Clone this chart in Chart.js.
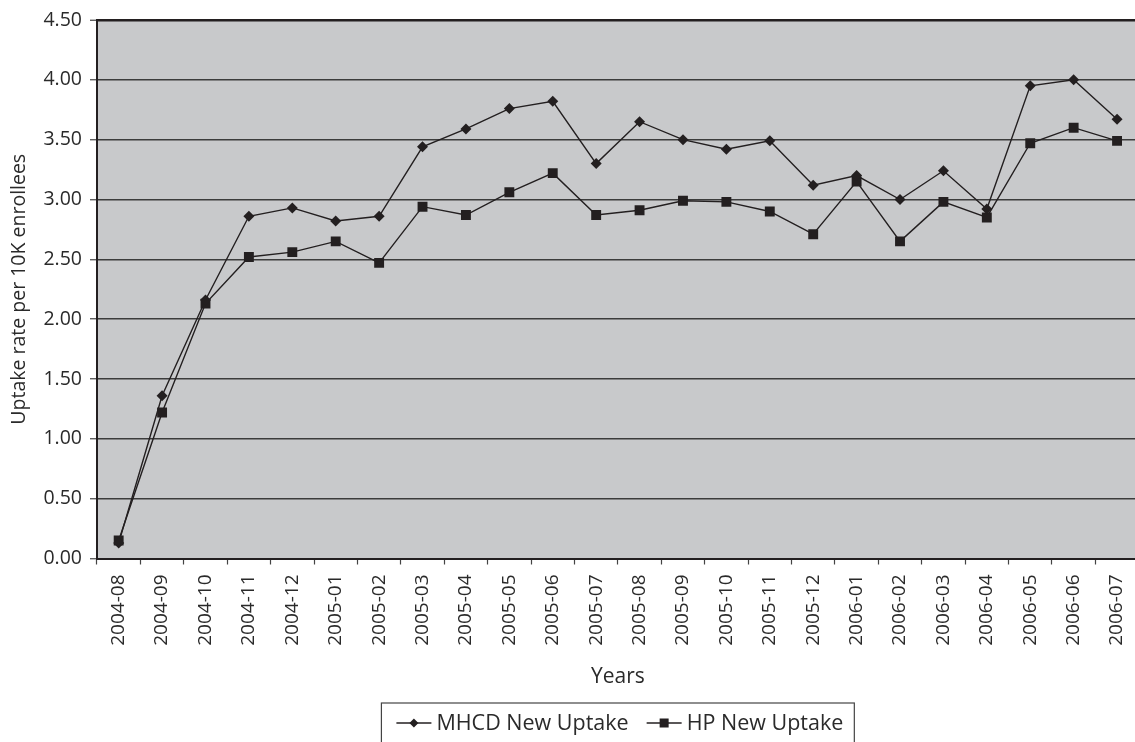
<!DOCTYPE html>
<html>
<head>
<meta charset="utf-8">
<script src="https://cdn.jsdelivr.net/npm/chart.js@4"></script>
<style>
  html, body { margin: 0; padding: 0; background: #fff; overflow: hidden; }
  #wrap { position: relative; width: 1150px; height: 742px; }
</style>
</head>
<body>
<div id="wrap"><canvas id="uptakeChart"></canvas></div>
<script>
const months = [
    '2004-08', '2004-09', '2004-10', '2004-11', '2004-12',
    '2005-01', '2005-02', '2005-03', '2005-04', '2005-05', '2005-06',
    '2005-07', '2005-08', '2005-09', '2005-10', '2005-11', '2005-12',
    '2006-01', '2006-02', '2006-03', '2006-04', '2006-05', '2006-06', '2006-07'
];
const mhcdUptake = [
    0.13, 1.36, 2.16, 2.86, 2.93, 2.82, 2.86, 3.44, 3.59, 3.76, 3.82, 3.30,
    3.65, 3.50, 3.42, 3.49, 3.12, 3.20, 3.00, 3.24, 2.92, 3.95, 4.00, 3.67
];
const hpUptake = [
    0.15, 1.22, 2.13, 2.52, 2.56, 2.65, 2.47, 2.94, 2.87, 3.06, 3.22, 2.87,
    2.91, 2.99, 2.98, 2.90, 2.71, 3.15, 2.65, 2.98, 2.85, 3.47, 3.60, 3.49
];
const seriesNames = ['MHCD New Uptake', 'HP New Uptake'];

const INK = '#231f20';
const TEXT = '#2a2a2a';
const FONT = '"Open Sans", "Liberation Sans", sans-serif';

// Legend drawn by hand: a short line with the marker sitting on it
const lineLegend = {
    id: 'lineLegend',
    afterDraw(chart) {
        const ctx = chart.ctx;
        const area = chart.chartArea;
        ctx.save();
        ctx.font = '21.5px ' + FONT;
        ctx.textBaseline = 'middle';
        const sample = 35, gap = 5, itemGap = 18;
        const widths = chart.data.datasets.map(ds => ctx.measureText(ds.label).width);
        const inner = widths.reduce((a, w) => a + sample + gap + w, 0) + itemGap;
        const padL = 15, padR = 11;
        const boxW = inner + padL + padR;
        const cx = (area.left + area.right) / 2;
        const left = cx - boxW / 2;
        const top = 703;
        ctx.strokeStyle = '#444';
        ctx.lineWidth = 1.2;
        ctx.strokeRect(left, top, boxW, 60);
        let x = left + padL;
        const y = 723;
        chart.data.datasets.forEach((ds, i) => {
            ctx.strokeStyle = INK;
            ctx.lineWidth = 1.5;
            ctx.beginPath();
            ctx.moveTo(x, y);
            ctx.lineTo(x + sample, y);
            ctx.stroke();
            ctx.fillStyle = INK;
            const mx = x + sample / 2;
            if (ds.pointStyle === 'rectRot') {
                ctx.beginPath();
                ctx.moveTo(mx, y - 4.5);
                ctx.lineTo(mx + 4.5, y);
                ctx.lineTo(mx, y + 4.5);
                ctx.lineTo(mx - 4.5, y);
                ctx.closePath();
                ctx.fill();
            } else {
                ctx.fillRect(mx - 4.5, y - 4.5, 9, 9);
            }
            ctx.fillStyle = TEXT;
            ctx.fillText(ds.label, x + sample + gap, y + 1);
            x += sample + gap + widths[i] + itemGap;
        });
        ctx.restore();
    }
};

// Gray plot background
const plotBackground = {
    id: 'plotBackground',
    beforeDraw(chart) {
        const { ctx, chartArea } = chart;
        ctx.save();
        ctx.fillStyle = '#c8c9cb';
        ctx.fillRect(chartArea.left, chartArea.top,
            chartArea.right - chartArea.left, chartArea.bottom - chartArea.top);
        ctx.restore();
    }
};

new Chart(document.getElementById('uptakeChart'), {
    type: 'line',
    data: {
        labels: months,
        datasets: [
            {
                label: seriesNames[0],
                data: mhcdUptake,
                borderColor: INK,
                backgroundColor: INK,
                borderWidth: 1.4,
                pointStyle: 'rectRot',
                pointRadius: 5.5,
                pointBorderWidth: 0,
                tension: 0
            },
            {
                label: seriesNames[1],
                data: hpUptake,
                borderColor: INK,
                backgroundColor: INK,
                borderWidth: 1.4,
                pointStyle: 'rect',
                pointRadius: 7,
                pointBorderWidth: 0,
                tension: 0
            }
        ]
    },
    options: {
        responsive: true,
        maintainAspectRatio: false,
        animation: false,
        layout: { padding: { left: 8, top: 20, right: 6, bottom: 52 } },
        plugins: {
            legend: { display: false },
            tooltip: { enabled: false }
        },
        scales: {
            x: {
                offset: true,
                border: { color: INK, width: 2 },
                grid: {
                    offset: true,
                    drawOnChartArea: false,
                    drawTicks: true,
                    tickLength: 6,
                    tickColor: '#444',
                    tickWidth: 1.2
                },
                ticks: {
                    color: TEXT,
                    font: { family: FONT, size: 19 },
                    minRotation: 90,
                    maxRotation: 90,
                    autoSkip: false,
                    padding: 10
                },
                title: {
                    display: true,
                    text: 'Years',
                    color: TEXT,
                    font: { family: FONT, size: 21 },
                    padding: { top: 9, bottom: 0 }
                }
            },
            y: {
                min: 0,
                max: 4.5,
                border: { color: INK, width: 2 },
                grid: {
                    color: ctx => (ctx.tick && ctx.tick.value === 4.5) ? INK : '#3c3c3c',
                    lineWidth: ctx => (ctx.tick && ctx.tick.value === 4.5) ? 2.5 : 1.5,
                    tickLength: 7,
                    tickColor: '#444',
                    tickWidth: 1.2
                },
                ticks: {
                    stepSize: 0.5,
                    color: TEXT,
                    font: { family: FONT, size: 19.5 },
                    padding: 8,
                    callback: v => Number(v).toFixed(2)
                },
                title: {
                    display: true,
                    text: 'Uptake rate per 10K enrollees',
                    color: TEXT,
                    font: { family: FONT, size: 19.5 },
                    padding: { top: 0, bottom: 4 }
                }
            }
        }
    },
    plugins: [plotBackground, lineLegend]
});
</script>
</body>
</html>
